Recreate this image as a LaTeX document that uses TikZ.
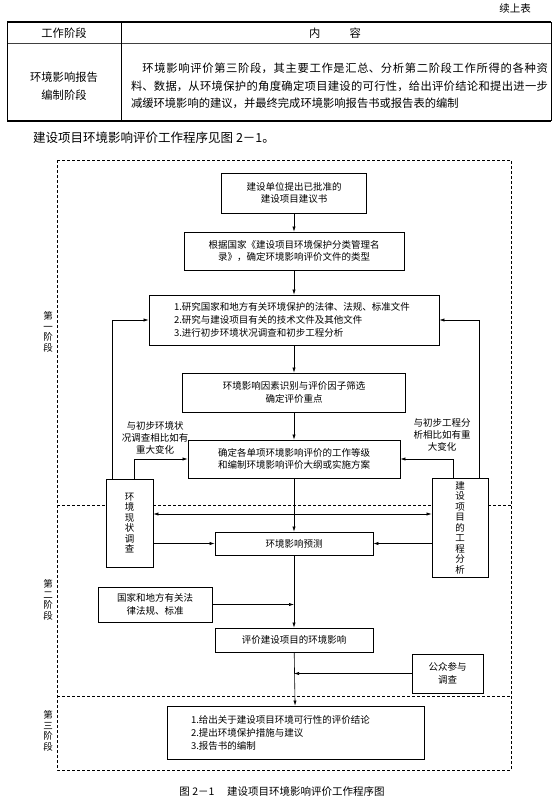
\documentclass[tikz,border=0pt]{standalone}
\usepackage{fontspec}
\setmainfont{Noto Sans CJK SC}
\usepackage{tikz}
\usetikzlibrary{arrows.meta,positioning,calc}

\newcommand{\boxfont}{\fontsize{9.5}{12.5}\selectfont}
\newcommand{\vfont}{\fontsize{9.5}{10.5}\selectfont}
\newcommand{\tabfont}{\fontsize{11.3}{17.5}\selectfont}

\begin{document}
\begin{tikzpicture}[x=1pt,y=-1pt,
  stepbox/.style={draw,line width=0.7pt,inner sep=0pt,align=center,font=\boxfont},
  listbox/.style={draw,line width=0.7pt,inner ysep=0pt,align=left,font=\fontsize{9.5}{13}\selectfont},
  sidebox/.style={draw,line width=0.7pt,inner sep=0pt,align=center,font=\vfont},
  note/.style={inner sep=0pt,align=center,font=\fontsize{9.5}{12}\selectfont},
  stagelab/.style={inner sep=0pt,align=center,font=\vfont},
  flow/.style={-{Latex[length=5pt,width=3.2pt]},line width=0.6pt},
  both/.style={{Latex[length=5pt,width=3.2pt]}-{Latex[length=5pt,width=3.2pt]},line width=0.6pt},
  stage/.style={line width=0.6pt,dash pattern=on 3pt off 2pt}]
  \useasboundingbox (0,0) rectangle (557,803);
  % table on top
  \node[inner sep=0pt,font=\fontsize{10.5}{12}\selectfont] (cont) at (515,9) {续上表};
  \draw[line width=1.2pt] (7,22) -- (551,22);
  \draw[line width=1.2pt] (7,121) -- (551,121);
  \draw[line width=0.8pt,black!75] (7,43) -- (551,43);
  \draw[line width=0.9pt] (7,22) -- (7,121) (551,22) -- (551,121);
  \draw[line width=0.6pt] (121,22) -- (121,121);
  \node[inner sep=0pt,font=\tabfont] (hstage) at (64,33) {工作阶段};
  \node[inner sep=0pt,font=\tabfont] (hcont) at (335,33) {内\hspace{2.6em}容};
  \node[inner sep=0pt,align=center,font=\fontsize{11.3}{18}\selectfont] (cstage) at (64,86) {环境影响报告\\编制阶段};
  \node[inner sep=0pt,text width=417pt,align=justify,font=\tabfont] (ccont) at (339.5,86) {%
    \XeTeXlinebreaklocale "zh"\XeTeXlinebreakskip=0pt plus 3pt minus 0.5pt
    \hspace*{1em}环境影响评价第三阶段，其主要工作是汇总、分析第二阶段工作所得的各种资\linebreak
    料、数据，从环境保护的角度确定项目建设的可行性，给出评价结论和提出进一步\linebreak
    减缓环境影响的建议，并最终完成环境影响报告书或报告表的编制};
  \node[anchor=west,inner sep=0pt,font=\fontsize{12.5}{14}\selectfont] (intro) at (33,138) {建设项目环境影响评价工作程序见图 2－1。};
  % stage frames
  \draw[stage] (57,160) rectangle (511,770);
  \foreach \n/\y/\t in {st1/332/一,st2/600/二,st3/731/三}
    \node[stagelab] (\n) at (48,\y) {第\\\t\\阶\\段};
  % main column
  \node[stepbox,minimum width=145pt,minimum height=40pt] (propose) at (294,193) {建设单位提出已批准的\\建设项目建议书};
  \node[stepbox,minimum width=220pt,minimum height=38pt] (classify) at (294,251) {根据国家《建设项目环境保护分类管理名\\录》，确定环境影响评价文件的类型};
  \node[listbox,text width=240pt,inner xsep=25pt,minimum height=50pt] (study) at (294,320) {1.研究国家和地方有关环境保护的法律、法规、标准文件\\2.研究与建设项目有关的技术文件及其他文件\\3.进行初步环境状况调查和初步工程分析};
  \node[stepbox,minimum width=223pt,minimum height=39pt] (screen) at (294,392.5) {环境影响因素识别与评价因子筛选\\确定评价重点};
  \node[stepbox,minimum width=212pt,minimum height=38pt] (grade) at (294,459) {确定各单项环境影响评价的工作等级\\和编制环境影响评价大纲或实施方案};
  \node[stepbox,minimum width=158pt,minimum height=23pt] (predict) at (294,543.5) {环境影响预测};
  \node[stepbox,minimum width=158pt,minimum height=24pt] (assess) at (294,640) {评价建设项目的环境影响};
  \node[listbox,text width=209pt,inner xsep=24pt,minimum height=53pt] (report) at (295.5,732.5) {1.给出关于建设项目环境可行性的评价结论\\2.提出环境保护措施与建议\\3.报告书的编制};
  % side boxes
  \node[sidebox,minimum width=47pt,minimum height=88pt] (env) at (129.5,523) {环\\境\\现\\状\\调\\查};
  \node[sidebox,minimum width=56pt,minimum height=99pt] (eng) at (460,527.5) {建\\设\\项\\目\\的\\工\\程\\分\\析};
  \node[stepbox,minimum width=114pt,minimum height=35pt] (law) at (155,604.5) {国家和地方有关法\\律法规、标准};
  \node[stepbox,minimum width=71pt,minimum height=39pt] (public) at (447.5,673.5) {公众参与\\调查};
  \node[note] (envnote) at (155,438) {与初步环境状\\况调查相比如有\\重大变化};
  \node[note] (engnote) at (442,435) {与初步工程分\\析相比如有重\\大变化};
  % stage borders between columns
  \coordinate (s1L) at (57,505);
  \coordinate (s1R) at (511,505);
  \draw[stage] (s1L) -- (s1L -| env.west);
  \draw[stage] (s1L -| env.east) -- (s1L -| eng.west);
  \draw[stage] (s1L -| eng.east) -- (s1R);
  \coordinate (s2L) at (57,696);
  \coordinate (s2R) at (511,696);
  \draw[stage] (s2L) -- (s2R);
  % connectors
  \foreach \a/\b in {propose/classify,classify/study,study/screen,screen/grade,grade/predict,predict/assess,assess/report}
    \draw[flow] (\a) -- (\b);
  \draw[flow] ([xshift=-17.5pt]env.north) |- (study.west);
  \draw[flow] ([xshift=4.5pt]env.north) |- (grade.west);
  \draw[flow] ([xshift=19pt]eng.north) |- (study.east);
  \draw[flow] ([xshift=-7pt]eng.north) |- (grade.east);
  \coordinate (cross) at (294,514);
  \draw[both] (cross -| env.east) -- (cross -| eng.west);
  \draw[flow] (env.east |- predict) -- (predict.west);
  \draw[flow] (eng.west |- predict) -- (predict.east);
  \draw[flow] (law.east) -- (law.east -| assess.north);
  \draw[flow] (public.west) -- (public.west -| assess.south);
  % caption
  \node[inner sep=0pt,font=\fontsize{10.5}{12}\selectfont] (caption) at (282,792) {图 2－1\hspace{1.2em}建设项目环境影响评价工作程序图};
\end{tikzpicture}
\end{document}
